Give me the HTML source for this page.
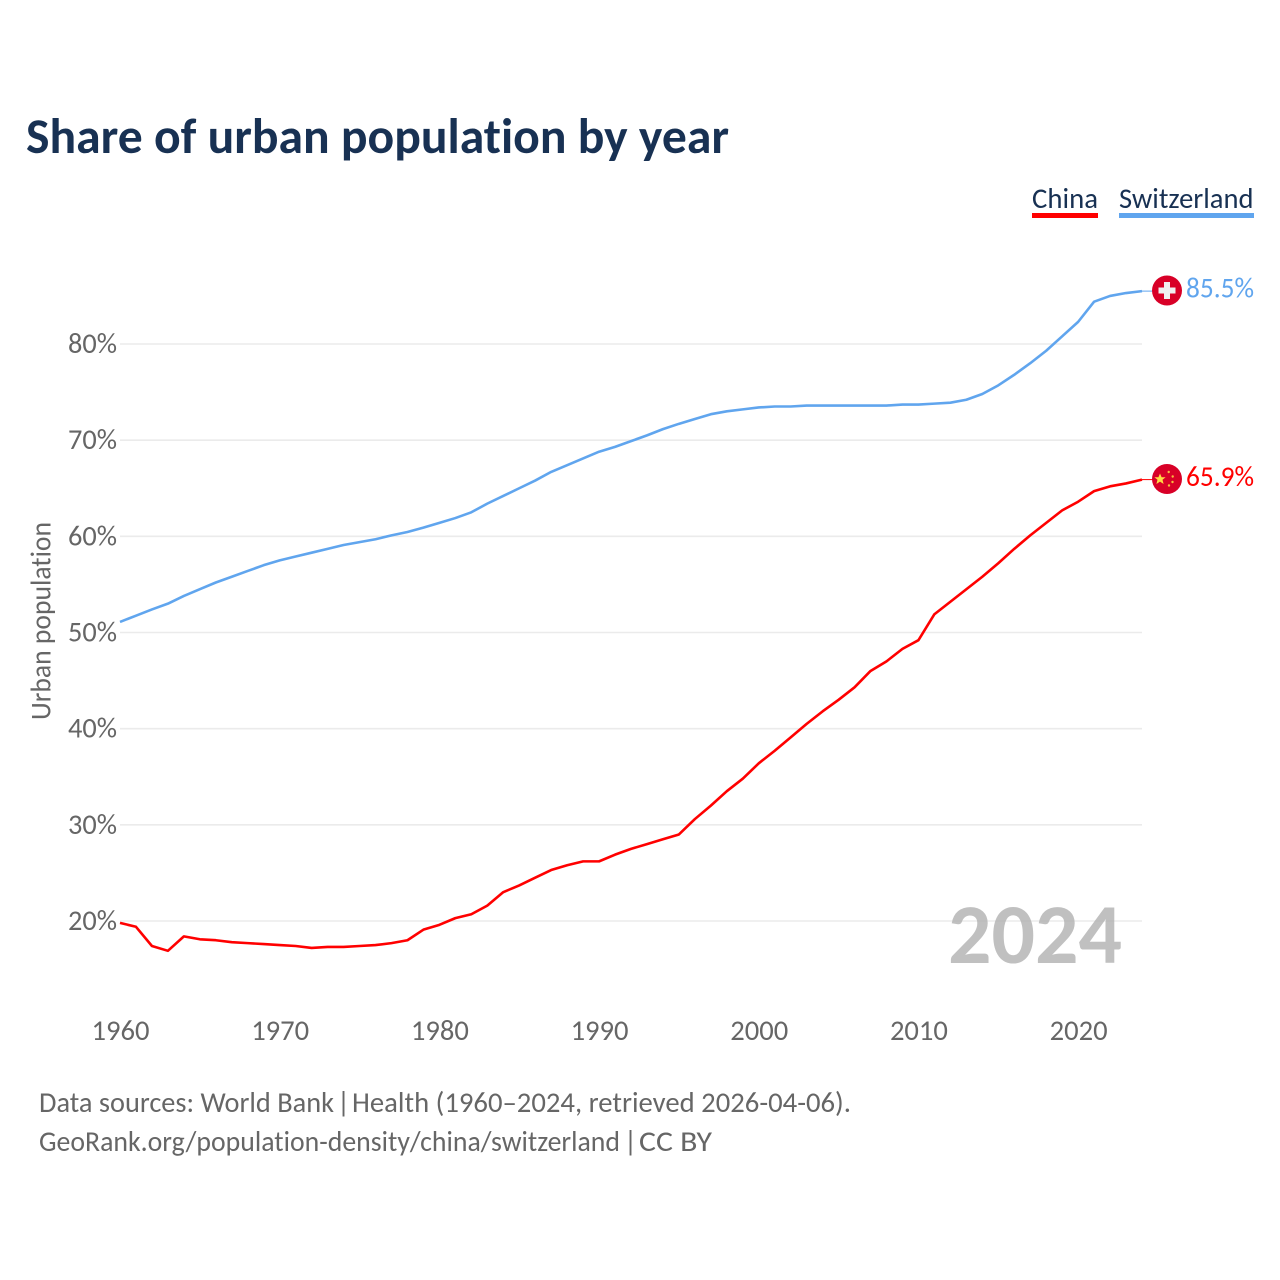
<!DOCTYPE html>
<html lang="en">
<head>
<meta charset="utf-8">
<title>Share of urban population by year</title>
<style>
html,body{margin:0;padding:0;background:#fff;width:1280px;height:1280px;overflow:hidden}
svg{display:block}
text{font-family:"Carlito","Lato","Liberation Sans",sans-serif;font-variant-ligatures:none;font-feature-settings:"liga" 0,"clig" 0}
</style>
</head>
<body>
<svg id="chart" xmlns="http://www.w3.org/2000/svg" width="1280" height="1280" viewBox="0 0 1280 1280">
  <rect width="1280" height="1280" fill="#fff"/>
  <text x="26" y="153" font-size="50" font-weight="700" fill="#183153" textLength="703" lengthAdjust="spacingAndGlyphs">Share of urban population by year</text>

  <g>
    <text x="1032" y="208" font-size="28.3" fill="#183153" textLength="66" lengthAdjust="spacingAndGlyphs">China</text>
    <rect x="1032" y="213" width="66" height="5" fill="#ff0000"/>
  </g>
  <g>
    <text x="1119" y="208" font-size="28.3" fill="#183153" textLength="134.5" lengthAdjust="spacingAndGlyphs">Switzerland</text>
    <rect x="1119" y="213" width="135" height="5" fill="#60a5ee"/>
  </g>

  <g id="grid"></g>
  <g id="yticks"></g>
  <g id="xticks"></g>

  <text transform="translate(50.5,621) rotate(-90)" text-anchor="middle" font-size="28.3" fill="#666" textLength="198" lengthAdjust="spacingAndGlyphs">Urban population</text>

  <text x="1122" y="963" text-anchor="end" font-size="85" font-weight="700" fill="#b0b0b0" fill-opacity="0.8" textLength="174" lengthAdjust="spacingAndGlyphs">2024</text>

  <g id="series"></g>

  <g id="end-markers"></g>

  <g>
    <text x="39" y="1112" font-size="28.3" fill="#666" textLength="295" lengthAdjust="spacingAndGlyphs">Data sources: World Bank</text>
    <text x="337" y="1112" font-size="28.3" fill="#666">|</text>
    <text x="352" y="1112" font-size="28.3" fill="#666" textLength="499" lengthAdjust="spacingAndGlyphs">Health (1960–2024, retrieved 2026-04-06).</text>
  </g>
  <g>
    <text x="39" y="1151" font-size="28.3" fill="#666" textLength="581" lengthAdjust="spacingAndGlyphs">GeoRank.org/population-density/china/switzerland</text>
    <text x="624" y="1151" font-size="28.3" fill="#666">|</text>
    <text x="639" y="1151" font-size="28.3" fill="#666" textLength="73" lengthAdjust="spacingAndGlyphs">CC BY</text>
  </g>
</svg>
<script>
var startYear = 1960;
var china = [19.8,19.4,17.4,16.9,18.4,18.1,18.0,17.8,17.7,17.6,17.5,17.4,17.2,17.3,17.3,17.4,17.5,17.7,18.0,19.1,19.6,20.3,20.7,21.6,23.0,23.7,24.5,25.3,25.8,26.2,26.2,26.9,27.5,28.0,28.5,29.0,30.6,32.0,33.5,34.8,36.4,37.7,39.1,40.5,41.8,43.0,44.3,46.0,47.0,48.3,49.2,51.9,53.2,54.5,55.8,57.2,58.7,60.1,61.4,62.7,63.6,64.7,65.2,65.5,65.9];
var switzerland = [51.1,51.75,52.4,53.0,53.8,54.5,55.2,55.8,56.4,57.0,57.5,57.9,58.3,58.7,59.1,59.4,59.7,60.1,60.45,60.9,61.4,61.9,62.5,63.4,64.2,65.0,65.8,66.7,67.4,68.1,68.8,69.3,69.9,70.5,71.15,71.7,72.2,72.7,73.0,73.2,73.4,73.5,73.5,73.6,73.6,73.6,73.6,73.6,73.6,73.7,73.7,73.8,73.9,74.2,74.8,75.7,76.8,78.0,79.3,80.8,82.3,84.4,85.0,85.3,85.5];
var yTickValues = [20,30,40,50,60,70,80];
var xTickValues = [1960,1970,1980,1990,2000,2010,2020];

var NS = 'http://www.w3.org/2000/svg';
function xScale(year){ return 120 + (year - 1960) * (1142 - 120) / 64; }
function yScale(v){ return 921 - (v - 20) * (921 - 344) / 60; }
function make(tag, attrs, parent){
  var el = document.createElementNS(NS, tag);
  for (var k in attrs) el.setAttribute(k, attrs[k]);
  parent.appendChild(el);
  return el;
}
var grid = document.getElementById('grid');
var yticks = document.getElementById('yticks');
var xticks = document.getElementById('xticks');
var series = document.getElementById('series');
var markers = document.getElementById('end-markers');

yTickValues.forEach(function(v){
  var line = make('line', {x1:120, x2:1142, y1:yScale(v), y2:yScale(v), stroke:'#ebebeb', 'stroke-width':1.6}, grid);
  
  
  var t = make('text', {x:117, y:yScale(v)+9, 'text-anchor':'end', 'font-size':28.3, fill:'#666', textLength:49, lengthAdjust:'spacingAndGlyphs'}, yticks);
  t.textContent = v + '%';
  
  
});
xTickValues.forEach(function(y){
  var t = make('text', {x:xScale(y)+0.5, y:1040, 'text-anchor':'middle', 'font-size':28.3, fill:'#666', textLength:58, lengthAdjust:'spacingAndGlyphs'}, xticks);
  t.textContent = y;
  
  
});
function drawLine(values, color, name){
  var pts = values.map(function(v, i){ return xScale(startYear + i).toFixed(2) + ',' + yScale(v).toFixed(2); }).join(' ');
  var p = make('polyline', {points:pts, fill:'none', stroke:color, 'stroke-width':2.6, 'stroke-linejoin':'round'}, series);
  
  
  var last = values[values.length - 1];
  var y = yScale(last);
  var c = make('line', {x1:xScale(startYear + values.length - 1), x2:1153, y1:y, y2:y, stroke:color, 'stroke-width':1}, markers);
  
  
  var label = make('text', {x:1186, y:y+6.2, 'font-size':28.3, fill:color, textLength:68, lengthAdjust:'spacingAndGlyphs'}, markers);
  label.textContent = last.toFixed(1) + '%';
  
  
  return y;
}
var yc = drawLine(china, '#ff0000', 'china');
var ys = drawLine(switzerland, '#60a5ee', 'switzerland');

var chBadge = make('g', {transform:'translate(1167,' + (ys - 0.6) + ')'}, markers);


make('circle', {r:15, fill:'#d80027'}, chBadge);
make('rect', {x:-8.5, y:-3, width:17, height:6, fill:'#f0f0f0'}, chBadge);
make('rect', {x:-3, y:-8.5, width:6, height:17, fill:'#f0f0f0'}, chBadge);

var cnBadge = make('g', {transform:'translate(1167,' + (yc - 0.6) + ')'}, markers);


make('circle', {r:15, fill:'#d80027'}, cnBadge);
make('polygon', {points:'-7,-5.5 -5.4,-1.7 -1.4,-1.7 -4.5,0.8 -3.4,5 -7,2.6 -10.6,5 -9.5,0.8 -12.6,-1.7 -8.6,-1.7', fill:'#ffda44'}, cnBadge);
[[1.7,-7],[5.7,-2.5],[5.5,3],[2,6.5]].forEach(function(s){
  make('circle', {cx:s[0], cy:s[1], r:1.2, fill:'#ffda44', 'fill-opacity':0.85}, cnBadge);
});
</script>
</body>
</html>
